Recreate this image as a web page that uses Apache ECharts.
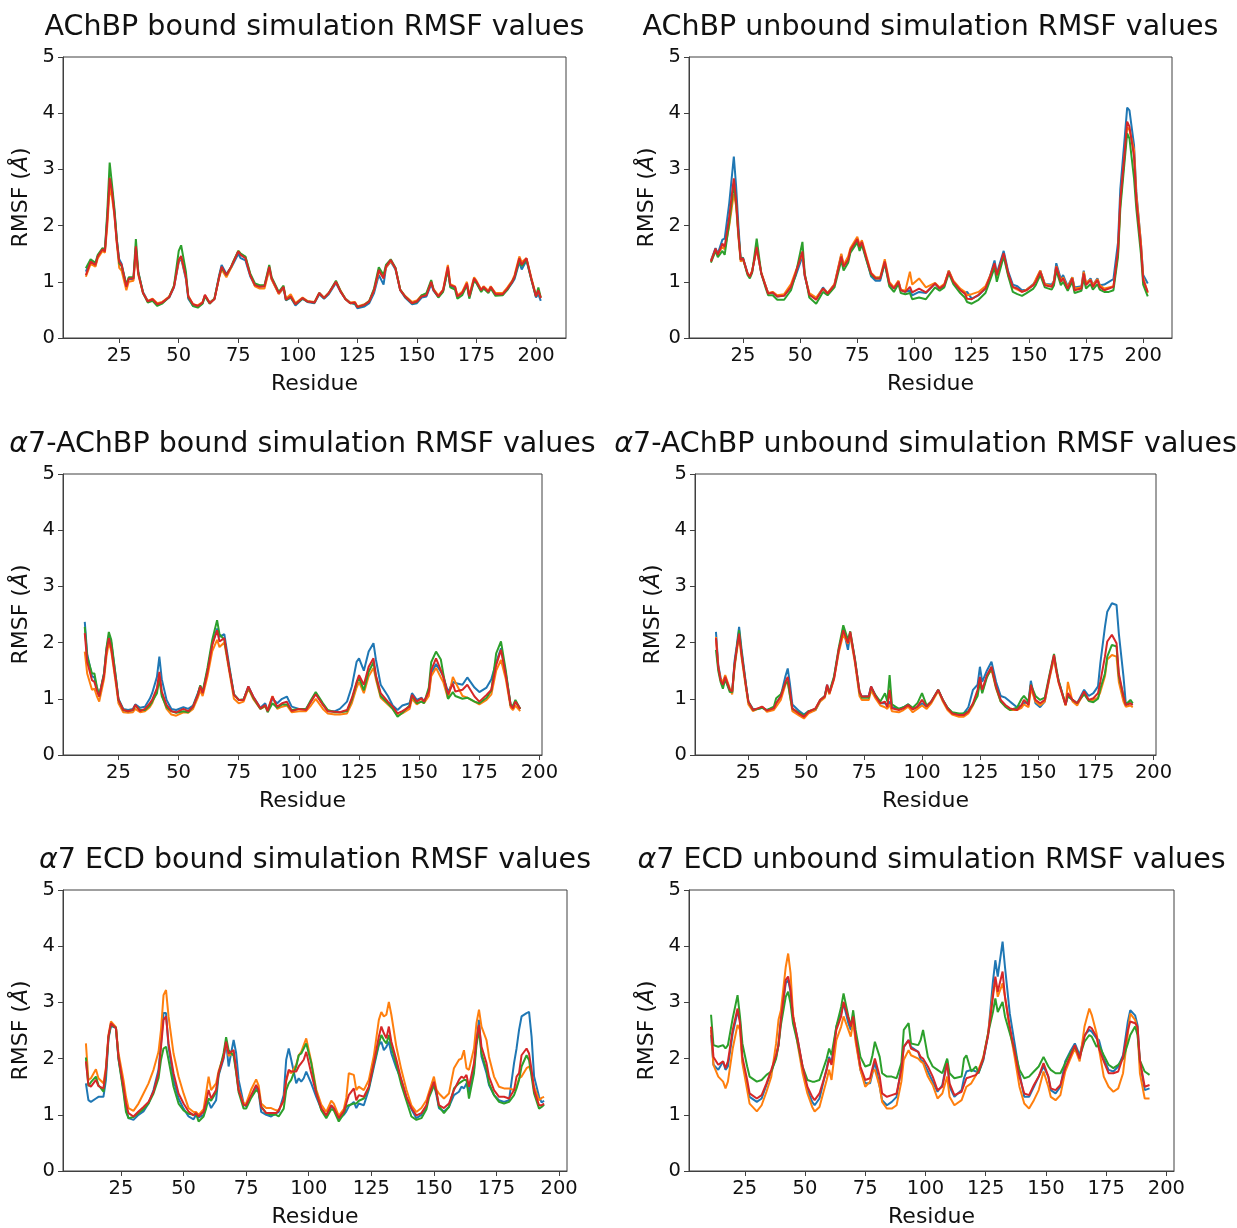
<!DOCTYPE html>
<html>
<head>
<meta charset="utf-8">
<script src="https://cdn.jsdelivr.net/npm/echarts@6.0.0/dist/echarts.min.js"></script>
<style>
  html, body { margin: 0; padding: 0; background: #fff; }
  #chart { width: 1237px; height: 1228px; }
</style>
</head>
<body>
<div id="chart"></div>
<script>
// residue tick labels, shared by every panel
const residueTicks = [25, 50, 75, 100, 125, 150, 175, 200];

// AChBP bound
const p1Res = [11,13,15,16,18,19,20,21,22,23, 24,25,26,28,29,31,32,33,35,37, 39,41,43,46,48,50,51,53,54,56,
  58,60,61,63,65,67,68,70,72,73, 75,76,78,80,82,84,86,88,89,92, 94,95,97,99,102,104,107,109,111,113,
  116,118,120,122,124,125,128,130,132,134, 136,137,139,141,143,145,148,150,152,154, 156,157,159,161,163,164,166,167,169,171,
  172,174,175,177,178,180,181,183,186,188, 190,191,193,194,196,198,200,201,202];
const p1Blue = [1.18,1.38,1.28,1.46,1.58,1.56,2.15,2.80,2.62,2.25, 1.75,1.40,1.32,0.93,1.05,1.05,1.60,1.17,0.82,0.66,
  0.68,0.60,0.63,0.72,0.90,1.35,1.42,1.05,0.70,0.57, 0.56,0.62,0.75,0.63,0.70,1.12,1.30,1.14,1.25,1.33,
  1.50,1.42,1.38,1.10,0.93,0.92,0.92,1.22,1.05,0.79, 0.88,0.67,0.72,0.58,0.70,0.64,0.62,0.78,0.70,0.78,
  0.98,0.82,0.70,0.63,0.60,0.53,0.56,0.62,0.80,1.12, 0.95,1.25,1.36,1.22,0.85,0.72,0.60,0.62,0.72,0.74,
  0.96,0.84,0.73,0.84,1.22,0.92,0.90,0.74,0.80,0.95, 0.72,1.04,0.98,0.84,0.90,0.82,0.90,0.78,0.78,0.86,
  0.98,1.05,1.35,1.22,1.38,1.05,0.72,0.78,0.66];
const p1Orange = [1.09,1.32,1.27,1.42,1.55,1.52,2.00,2.68,2.50,2.18, 1.68,1.25,1.20,0.85,1.00,1.02,1.55,1.12,0.80,0.66,
  0.70,0.62,0.64,0.74,0.92,1.38,1.44,1.08,0.75,0.60, 0.58,0.64,0.76,0.63,0.70,1.08,1.22,1.08,1.25,1.36,
  1.55,1.50,1.44,1.13,0.92,0.88,0.88,1.22,1.04,0.78, 0.90,0.70,0.78,0.62,0.72,0.66,0.64,0.80,0.72,0.80,
  1.00,0.84,0.70,0.63,0.64,0.56,0.60,0.66,0.85,1.18, 1.08,1.25,1.37,1.24,0.86,0.75,0.64,0.67,0.76,0.78,
  1.00,0.87,0.76,0.86,1.30,0.96,0.92,0.76,0.82,1.00, 0.76,1.08,1.02,0.86,0.92,0.84,0.92,0.80,0.80,0.90,
  1.02,1.12,1.45,1.35,1.42,1.08,0.76,0.84,0.72];
const p1Green = [1.24,1.40,1.34,1.48,1.60,1.58,2.25,3.12,2.72,2.30, 1.75,1.33,1.28,0.95,1.08,1.08,1.76,1.18,0.80,0.63,
  0.66,0.57,0.61,0.73,0.93,1.55,1.65,1.18,0.73,0.57, 0.54,0.61,0.74,0.61,0.70,1.10,1.25,1.12,1.27,1.37,
  1.55,1.50,1.45,1.15,0.97,0.94,0.94,1.30,1.08,0.82, 0.93,0.68,0.72,0.60,0.70,0.65,0.63,0.80,0.71,0.80,
  1.02,0.83,0.69,0.62,0.62,0.55,0.59,0.66,0.88,1.26, 1.12,1.30,1.40,1.25,0.86,0.74,0.62,0.64,0.76,0.80,
  1.03,0.86,0.72,0.82,1.22,0.90,0.86,0.70,0.76,0.94, 0.70,1.02,0.98,0.82,0.88,0.80,0.88,0.75,0.76,0.86,
  1.00,1.08,1.38,1.28,1.40,1.05,0.74,0.90,0.72];
const p1Red = [1.12,1.36,1.30,1.45,1.58,1.54,2.10,2.85,2.60,2.20, 1.70,1.36,1.30,0.91,1.06,1.06,1.63,1.15,0.80,0.65,
  0.69,0.60,0.63,0.73,0.91,1.39,1.46,1.09,0.74,0.60, 0.57,0.63,0.77,0.62,0.69,1.09,1.27,1.12,1.27,1.36,
  1.54,1.48,1.42,1.12,0.94,0.91,0.92,1.27,1.06,0.80, 0.91,0.68,0.74,0.60,0.71,0.65,0.63,0.80,0.71,0.80,
  1.00,0.82,0.69,0.62,0.63,0.55,0.59,0.65,0.85,1.21, 1.06,1.27,1.39,1.24,0.85,0.74,0.62,0.65,0.74,0.76,
  1.00,0.85,0.74,0.85,1.27,0.94,0.91,0.74,0.80,0.97, 0.74,1.06,1.00,0.85,0.91,0.82,0.91,0.78,0.78,0.88,
  1.00,1.09,1.42,1.30,1.42,1.06,0.74,0.85,0.71];

// AChBP unbound
const p2Res = [11,13,14,16,17,19,21,22,23,24, 25,27,28,29,31,33,35,36,38,40, 43,46,48,51,52,54,57,60,62,65,
  68,69,71,72,75,76,77,79,81,83, 85,87,89,91,93,94,96,98,99,102, 105,109,111,113,115,117,120,122,123,125,
  128,131,133,135,136,139,141,143,145,147, 149,152,153,155,157,160,161,162,164,165, 167,169,170,173,174,175,177,178,180,181,
  183,185,187,189,190,192,193,194,196,197, 199,200,202];
const p2Blue = [1.38,1.60,1.50,1.75,1.77,2.40,3.23,2.70,2.00,1.40, 1.43,1.15,1.10,1.18,1.60,1.15,0.92,0.80,0.80,0.74,
  0.76,0.90,1.10,1.45,1.10,0.78,0.70,0.90,0.80,0.95, 1.48,1.28,1.40,1.55,1.72,1.60,1.68,1.40,1.10,1.02,
  1.02,1.33,0.95,0.88,1.00,0.86,0.82,0.85,0.76,0.82, 0.80,0.97,0.88,0.92,1.20,1.00,0.86,0.80,0.82,0.70,
  0.76,0.88,1.10,1.38,1.15,1.55,1.18,0.95,0.92,0.85, 0.86,0.96,1.02,1.20,0.96,0.95,1.02,1.33,1.05,1.12,
  0.92,1.08,0.90,0.92,1.20,0.96,1.06,0.94,1.06,0.94, 0.95,1.00,1.05,1.70,2.65,3.60,4.10,4.05,3.43,2.60,
  1.70,1.12,0.97];
const p2Orange = [1.37,1.56,1.50,1.62,1.58,2.00,2.57,2.35,1.80,1.36, 1.40,1.15,1.10,1.20,1.58,1.17,0.92,0.80,0.82,0.76,
  0.78,0.96,1.18,1.50,1.12,0.80,0.72,0.88,0.80,0.96, 1.50,1.30,1.45,1.60,1.80,1.66,1.74,1.45,1.16,1.08,
  1.08,1.40,1.00,0.90,1.02,0.86,0.84,1.18,0.95,1.06, 0.90,0.98,0.90,0.96,1.20,1.02,0.88,0.82,0.76,0.78,
  0.82,0.92,1.10,1.30,1.10,1.48,1.12,0.90,0.86,0.82, 0.86,0.95,1.04,1.20,0.96,0.92,1.02,1.28,1.02,1.08,
  0.90,1.08,0.88,0.90,1.18,0.98,1.04,0.94,1.05,0.94, 0.88,0.90,0.92,1.50,2.40,3.30,3.75,3.70,3.35,2.55,
  1.70,1.08,0.80];
const p2Green = [1.34,1.55,1.44,1.55,1.48,2.05,2.75,2.40,1.85,1.40, 1.42,1.12,1.06,1.16,1.77,1.15,0.88,0.76,0.76,0.68,
  0.68,0.85,1.12,1.71,1.15,0.72,0.61,0.82,0.76,0.90, 1.38,1.20,1.34,1.52,1.70,1.55,1.66,1.38,1.12,1.06,
  1.06,1.33,0.92,0.82,0.96,0.80,0.78,0.80,0.69,0.72, 0.69,0.90,0.84,0.90,1.15,0.96,0.80,0.72,0.64,0.61,
  0.68,0.80,1.02,1.25,1.00,1.45,1.10,0.82,0.78,0.75, 0.80,0.88,0.94,1.12,0.90,0.86,0.94,1.20,0.94,1.00,
  0.84,1.00,0.80,0.84,1.06,0.88,0.96,0.86,0.96,0.86, 0.82,0.82,0.85,1.45,2.30,3.20,3.64,3.55,2.84,2.30,
  1.50,0.95,0.74];
const p2Red = [1.36,1.59,1.48,1.68,1.62,2.16,2.84,2.45,1.86,1.39, 1.42,1.15,1.09,1.18,1.62,1.15,0.91,0.79,0.81,0.74,
  0.75,0.91,1.15,1.54,1.12,0.77,0.68,0.88,0.79,0.94, 1.45,1.27,1.39,1.57,1.76,1.62,1.71,1.42,1.15,1.06,
  1.06,1.36,0.97,0.88,1.00,0.85,0.82,0.91,0.81,0.88, 0.81,0.97,0.88,0.94,1.18,1.00,0.85,0.79,0.70,0.69,
  0.77,0.88,1.09,1.33,1.12,1.51,1.15,0.91,0.88,0.82, 0.85,0.94,1.00,1.18,0.94,0.91,1.00,1.27,1.00,1.06,
  0.88,1.06,0.85,0.88,1.15,0.94,1.03,0.91,1.03,0.91, 0.85,0.88,0.91,1.57,2.45,3.34,3.85,3.76,3.23,2.45,
  1.62,1.03,0.82];

// α7-AChBP bound
const p3Res = [11,12,14,15,16,17,19,20,21,22, 24,25,27,29,31,32,34,36,38,39, 41,42,43,45,47,49,52,54,56,58,
  59,60,62,64,66,67,69,71,73,75, 77,79,81,84,86,87,89,91,93,95, 97,100,103,105,107,110,112,115,117,120,
  122,124,125,127,129,131,132,134,137,139, 141,143,146,147,149,151,152,154,155,157, 159,160,162,164,165,168,170,173,175,178,
  180,182,184,186,188,189,190,192];
const p3Blue = [2.37,1.80,1.40,1.38,1.20,1.05,1.45,1.88,2.10,2.00, 1.35,1.00,0.82,0.80,0.82,0.90,0.84,0.86,1.00,1.10,
  1.39,1.75,1.35,0.98,0.82,0.80,0.85,0.82,0.88,1.10, 1.22,1.12,1.50,1.98,2.25,2.10,2.15,1.60,1.08,0.98,
  0.98,1.22,1.04,0.84,0.92,0.80,1.00,0.92,1.00,1.04, 0.86,0.82,0.82,0.95,1.10,0.90,0.78,0.78,0.82,0.95,
  1.22,1.66,1.72,1.50,1.84,1.99,1.70,1.25,1.05,0.88, 0.80,0.88,0.92,1.10,0.98,1.02,0.95,1.10,1.45,1.62,
  1.48,1.40,1.12,1.30,1.28,1.25,1.38,1.20,1.12,1.20, 1.35,1.65,1.90,1.45,0.90,0.85,0.95,0.82];
const p3Orange = [1.84,1.45,1.16,1.18,1.05,0.95,1.35,1.75,2.00,1.85, 1.25,0.92,0.76,0.75,0.76,0.82,0.76,0.78,0.85,0.92,
  1.15,1.40,1.08,0.82,0.72,0.70,0.76,0.75,0.82,1.02, 1.15,1.05,1.40,1.85,2.05,1.92,2.00,1.50,1.00,0.92,
  0.95,1.18,1.00,0.82,0.86,0.80,1.05,0.82,0.86,0.88, 0.76,0.78,0.78,0.88,1.00,0.82,0.74,0.72,0.72,0.74,
  0.92,1.20,1.30,1.10,1.40,1.55,1.35,1.02,0.90,0.82, 0.70,0.74,0.82,1.00,0.90,0.96,0.92,1.05,1.40,1.55,
  1.38,1.30,1.00,1.39,1.30,1.05,1.02,0.95,0.90,0.98, 1.08,1.50,1.69,1.35,0.85,0.80,0.88,0.78];
const p3Green = [2.28,1.75,1.45,1.45,1.22,1.05,1.45,1.90,2.19,2.05, 1.35,0.98,0.80,0.78,0.80,0.88,0.80,0.80,0.88,0.95,
  1.10,1.36,1.05,0.85,0.78,0.75,0.78,0.76,0.86,1.08, 1.24,1.12,1.55,2.05,2.40,2.15,2.05,1.55,1.08,0.98,
  0.99,1.20,1.02,0.82,0.88,0.76,0.92,0.84,0.90,0.90, 0.80,0.82,0.82,0.98,1.12,0.92,0.80,0.76,0.76,0.78,
  0.98,1.28,1.38,1.15,1.48,1.65,1.40,1.05,0.92,0.82, 0.68,0.75,0.88,1.05,0.92,0.95,0.92,1.20,1.65,1.84,
  1.70,1.45,1.00,1.12,1.05,1.00,1.02,0.95,0.92,1.02, 1.15,1.81,2.02,1.50,0.88,0.88,0.98,0.82];
const p3Red = [2.17,1.66,1.33,1.30,1.15,1.04,1.42,1.84,2.08,1.90, 1.30,0.98,0.80,0.78,0.80,0.89,0.78,0.82,0.92,0.98,
  1.19,1.48,1.13,0.89,0.78,0.76,0.82,0.78,0.86,1.07, 1.22,1.10,1.48,1.96,2.22,2.02,2.08,1.54,1.07,0.98,
  0.98,1.22,1.04,0.83,0.89,0.78,1.04,0.86,0.92,0.95, 0.78,0.82,0.80,0.95,1.08,0.89,0.78,0.77,0.76,0.80,
  1.01,1.30,1.42,1.25,1.57,1.72,1.42,1.10,0.95,0.86, 0.74,0.78,0.86,1.07,0.95,1.01,0.95,1.13,1.51,1.72,
  1.51,1.39,1.08,1.27,1.13,1.16,1.25,1.04,0.95,1.07, 1.16,1.60,1.87,1.42,0.89,0.83,0.95,0.82];

// α7-AChBP unbound
const p4Res = [11,12,13,14,15,17,18,19,20,21, 22,24,25,27,29,31,33,36,37,39, 41,42,43,44,47,49,51,54,56,58,
  59,60,62,64,66,68,69,71,73,74, 77,78,80,82,84,85,86,87,90,92, 94,96,98,100,102,104,107,109,111,113,
  116,118,120,122,124,125,126,128,130,132, 134,136,138,141,143,144,146,147,149,151, 153,155,157,158,159,162,163,165,167,168,
  170,172,174,176,177,179,180,182,184,185, 187,188,190,191];
const p4Blue = [2.19,1.60,1.38,1.25,1.35,1.15,1.10,1.66,1.95,2.28, 1.90,1.25,0.95,0.82,0.82,0.84,0.80,0.84,0.92,1.05,
  1.40,1.54,1.25,0.90,0.78,0.72,0.78,0.80,0.96,1.05, 1.25,1.10,1.38,1.85,2.25,1.87,2.15,1.70,1.10,1.04,
  1.05,1.22,1.05,0.92,0.92,0.88,0.95,0.85,0.82,0.85, 0.90,0.82,0.85,0.92,0.86,0.95,1.16,0.98,0.84,0.75,
  0.72,0.74,0.85,1.16,1.25,1.57,1.30,1.50,1.66,1.30, 1.05,1.02,0.95,0.85,0.88,0.92,0.95,1.32,0.92,0.85,
  0.95,1.38,1.75,1.50,1.32,0.90,1.05,0.98,0.92,1.00, 1.16,1.05,1.10,1.22,1.63,2.28,2.55,2.70,2.67,2.16,
  1.40,0.92,0.92,0.90];
const p4Orange = [2.10,1.55,1.35,1.30,1.42,1.18,1.08,1.55,1.85,2.12, 1.75,1.18,0.90,0.78,0.82,0.86,0.77,0.80,0.86,0.98,
  1.25,1.32,1.05,0.78,0.70,0.65,0.74,0.80,0.95,1.02, 1.20,1.08,1.35,1.82,2.15,1.98,2.12,1.65,1.05,0.98,
  0.98,1.15,1.00,0.88,0.85,0.82,0.90,0.78,0.76,0.80, 0.86,0.76,0.82,0.88,0.82,0.92,1.14,0.95,0.80,0.72,
  0.68,0.68,0.74,0.88,1.10,1.35,1.12,1.40,1.52,1.18, 0.95,0.86,0.80,0.80,0.84,0.90,0.85,1.18,0.95,0.88,
  0.95,1.35,1.72,1.48,1.28,0.88,1.30,0.95,0.88,0.96, 1.10,0.98,0.98,1.02,1.12,1.40,1.70,1.78,1.75,1.30,
  0.95,0.86,0.88,0.85];
const p4Green = [1.87,1.50,1.30,1.18,1.35,1.12,1.12,1.58,1.90,2.22, 1.85,1.22,0.95,0.80,0.82,0.84,0.80,0.86,1.01,1.08,
  1.28,1.30,1.05,0.82,0.75,0.70,0.78,0.82,0.98,1.05, 1.22,1.12,1.40,1.90,2.31,2.05,2.20,1.72,1.12,1.02,
  1.02,1.20,1.06,0.95,1.10,0.95,1.42,0.90,0.82,0.85, 0.90,0.84,0.92,1.10,0.88,0.95,1.16,0.98,0.84,0.76,
  0.74,0.74,0.78,0.90,1.05,1.30,1.10,1.38,1.55,1.20, 0.95,0.86,0.80,0.84,1.00,1.05,0.95,1.25,1.05,0.98,
  1.02,1.42,1.80,1.55,1.32,0.90,1.05,0.98,0.92,0.98, 1.08,0.96,0.94,1.00,1.18,1.45,1.75,1.96,1.93,1.40,
  1.05,0.90,0.98,0.92];
const p4Red = [2.08,1.57,1.33,1.25,1.39,1.16,1.13,1.60,1.90,2.16, 1.81,1.22,0.95,0.80,0.83,0.86,0.79,0.83,0.92,1.04,
  1.30,1.39,1.13,0.83,0.73,0.68,0.77,0.83,0.98,1.04, 1.25,1.10,1.36,1.87,2.22,1.99,2.19,1.69,1.13,1.04,
  1.04,1.22,1.04,0.92,0.95,0.85,1.16,0.83,0.80,0.83, 0.89,0.81,0.86,0.98,0.86,0.95,1.16,0.98,0.83,0.74,
  0.71,0.71,0.77,0.92,1.16,1.39,1.16,1.42,1.57,1.22, 0.98,0.89,0.83,0.80,0.89,0.98,0.89,1.25,0.98,0.92,
  0.98,1.39,1.78,1.51,1.30,0.89,1.10,0.98,0.92,0.98, 1.13,0.98,1.01,1.10,1.30,1.75,2.02,2.14,1.99,1.45,
  1.04,0.89,0.92,0.89];

// α7 ECD bound
const p5Res = [11,12,13,15,16,18,19,20,21,23, 24,26,27,28,30,32,34,36,38,40, 41,42,43,44,46,48,50,52,54,55,
  56,58,59,60,61,63,64,66,67,68, 70,71,72,74,75,77,79,80,81,83, 85,87,88,90,91,92,93,95,96,97,
  98,99,101,103,105,107,109,110,112,114, 115,116,118,119,120,122,124,126,128,129, 130,131,132,133,135,137,139,141,143,145,
  147,148,150,151,152,154,156,158,160,161, 162,163,164,166,167,168,169,171,172,174, 176,178,180,182,183,184,185,187,188,189,
  190,192,193,194];
const p5Blue = [1.56,1.26,1.23,1.29,1.32,1.32,1.62,2.35,2.58,2.55, 2.00,1.45,1.12,0.94,0.91,1.00,1.06,1.20,1.44,1.80,
  2.27,2.81,2.81,2.21,1.62,1.29,1.11,0.97,0.92,1.00, 0.95,1.00,1.18,1.23,1.12,1.26,1.70,2.00,2.30,1.86,
  2.33,2.10,1.62,1.20,1.15,1.33,1.50,1.40,1.05,1.00, 0.97,1.03,1.05,1.35,1.98,2.18,1.98,1.56,1.65,1.59,
  1.65,1.77,1.56,1.32,1.10,0.97,1.15,1.10,0.92,1.00, 1.06,1.15,1.23,1.12,1.20,1.17,1.45,1.85,2.24,2.30,
  2.15,2.21,2.30,2.09,1.83,1.62,1.32,1.10,0.94,1.00, 1.15,1.35,1.55,1.35,1.12,1.06,1.14,1.35,1.41,1.50,
  1.47,1.56,1.41,1.80,2.33,2.69,2.04,1.74,1.53,1.35, 1.26,1.23,1.26,1.92,2.18,2.51,2.75,2.81,2.83,2.39,
  1.68,1.32,1.22,1.25];
const p5Orange = [2.27,1.62,1.65,1.81,1.65,1.56,1.85,2.42,2.66,2.56, 2.10,1.62,1.32,1.12,1.07,1.20,1.38,1.56,1.80,2.12,
  2.51,3.13,3.22,2.75,2.09,1.68,1.38,1.12,1.05,1.05, 1.00,1.10,1.38,1.68,1.44,1.56,1.78,2.05,2.32,2.05,
  2.10,1.78,1.45,1.20,1.20,1.45,1.63,1.52,1.20,1.12, 1.12,1.08,1.08,1.25,1.60,1.77,1.74,1.89,2.06,2.12,
  2.24,2.36,1.95,1.45,1.18,1.05,1.25,1.20,0.98,1.10, 1.30,1.74,1.71,1.44,1.50,1.44,1.62,2.05,2.69,2.83,
  2.75,2.78,3.01,2.78,2.21,1.80,1.45,1.17,1.05,1.12, 1.26,1.40,1.68,1.45,1.38,1.29,1.38,1.83,1.98,2.00,
  2.15,1.83,1.80,2.18,2.63,2.87,2.57,2.33,2.03,1.68, 1.50,1.47,1.47,1.44,1.50,1.65,1.68,1.83,1.86,1.74,
  1.50,1.26,1.30,1.32];
const p5Green = [2.02,1.51,1.58,1.68,1.53,1.41,1.75,2.38,2.60,2.55, 2.00,1.40,1.05,0.94,0.96,1.03,1.10,1.20,1.38,1.65,
  1.98,2.18,2.21,1.98,1.50,1.20,1.08,1.02,1.00,1.02, 0.88,0.97,1.11,1.29,1.25,1.40,1.72,2.10,2.38,2.15,
  2.05,1.75,1.40,1.11,1.11,1.30,1.44,1.40,1.15,1.03, 1.00,1.00,0.97,1.11,1.44,1.56,1.62,1.86,2.06,2.09,
  2.18,2.27,1.92,1.40,1.08,0.94,1.10,1.08,0.88,1.02, 1.15,1.17,1.20,1.20,1.25,1.29,1.48,1.90,2.27,2.42,
  2.33,2.27,2.42,2.21,1.89,1.53,1.25,0.97,0.91,0.94, 1.10,1.30,1.52,1.40,1.15,1.03,1.14,1.47,1.56,1.59,
  1.62,1.62,1.29,1.74,2.24,2.51,2.09,1.80,1.56,1.35, 1.23,1.20,1.23,1.35,1.47,1.62,1.86,2.06,1.97,1.68,
  1.38,1.11,1.14,1.18];
const p5Red = [1.95,1.53,1.50,1.62,1.51,1.47,1.80,2.39,2.63,2.54, 2.03,1.50,1.20,1.03,0.97,1.06,1.14,1.23,1.41,1.74,
  2.21,2.69,2.75,2.27,1.74,1.38,1.20,1.06,0.99,1.03, 0.97,1.06,1.23,1.44,1.29,1.44,1.74,2.03,2.30,2.09,
  2.15,1.80,1.44,1.17,1.17,1.35,1.53,1.44,1.14,1.03, 1.03,1.03,1.08,1.26,1.62,1.80,1.77,1.77,1.86,1.92,
  1.98,2.12,1.74,1.38,1.12,0.99,1.17,1.12,0.94,1.06, 1.20,1.35,1.47,1.26,1.35,1.32,1.50,1.92,2.39,2.57,
  2.45,2.36,2.57,2.30,1.98,1.62,1.32,1.12,0.99,1.03, 1.17,1.35,1.59,1.41,1.17,1.12,1.20,1.44,1.62,1.68,
  1.65,1.71,1.50,1.92,2.33,2.60,2.21,1.92,1.68,1.44, 1.32,1.32,1.29,1.44,1.68,1.74,2.06,2.18,2.09,1.80,
  1.44,1.17,1.17,1.20];

// α7 ECD unbound
const p6Res = [11,12,14,16,17,18,20,22,23,24, 26,27,30,32,34,36,38,39,40,42, 43,44,45,47,49,51,53,54,56,59,
  60,61,63,65,66,68,69,70,71,73, 75,77,78,79,81,82,84,86,88,90, 91,93,94,97,98,99,101,103,105,107,
  109,110,112,115,116,117,119,121,122,124, 126,128,129,130,132,133,135,137,139,141, 143,145,147,149,151,152,154,156,158,160,
  162,164,166,168,169,171,172,174,176,178, 180,182,184,185,187,188,189,191,193];
const p6Blue = [2.42,1.89,1.80,1.95,1.80,1.86,2.45,2.83,2.69,1.97, 1.53,1.32,1.23,1.29,1.53,1.77,2.03,2.24,2.72,3.34,
  3.40,3.19,2.75,2.33,1.83,1.44,1.23,1.17,1.29,1.83, 2.03,1.92,2.57,2.81,2.98,2.63,2.51,2.78,2.36,1.80,
  1.56,1.56,1.74,1.95,1.50,1.26,1.17,1.23,1.32,1.86, 2.21,2.33,2.21,2.12,1.98,1.95,1.77,1.59,1.41,1.53,
  1.98,1.50,1.32,1.44,1.65,1.77,1.80,1.77,1.74,1.97, 2.42,3.37,3.75,3.46,4.08,3.63,2.80,2.27,1.74,1.32,
  1.32,1.50,1.68,1.86,1.68,1.44,1.38,1.50,1.95,2.12, 2.27,2.06,2.42,2.51,2.48,2.36,2.33,2.00,1.80,1.77,
  1.86,2.06,2.66,2.86,2.77,2.60,1.92,1.44,1.47];
const p6Orange = [2.51,1.89,1.68,1.59,1.47,1.59,2.18,2.60,2.51,1.92, 1.44,1.20,1.06,1.17,1.41,1.68,2.27,2.69,2.86,3.63,
  3.87,3.52,2.80,2.24,1.74,1.38,1.14,1.06,1.14,1.62, 1.80,1.62,2.33,2.57,2.75,2.51,2.39,2.66,2.30,1.80,
  1.50,1.59,1.77,1.80,1.50,1.23,1.11,1.11,1.17,1.59, 1.98,2.15,2.06,2.00,1.95,1.92,1.68,1.53,1.29,1.38,
  1.68,1.32,1.17,1.26,1.38,1.50,1.56,1.71,1.80,2.03, 2.45,3.16,3.40,3.10,3.34,3.10,2.51,2.03,1.50,1.20,
  1.11,1.26,1.44,1.77,1.50,1.32,1.26,1.35,1.77,1.98, 2.18,1.95,2.57,2.89,2.78,2.45,2.18,1.68,1.50,1.41,
  1.47,1.74,2.45,2.80,2.69,2.51,1.74,1.29,1.29];
const p6Green = [2.78,2.24,2.21,2.24,2.18,2.24,2.72,3.13,2.75,2.27, 1.86,1.68,1.59,1.62,1.71,1.77,2.00,2.24,2.60,3.10,
  3.19,2.98,2.63,2.27,1.86,1.62,1.59,1.59,1.62,2.00, 2.18,2.06,2.57,2.92,3.16,2.75,2.57,2.86,2.51,2.03,
  1.86,1.89,2.06,2.30,2.03,1.74,1.68,1.68,1.65,1.92, 2.51,2.63,2.27,2.24,2.33,2.51,2.03,1.86,1.80,1.74,
  2.00,1.74,1.65,1.68,2.00,2.06,1.77,1.86,1.74,2.00, 2.45,2.83,3.07,2.83,3.01,2.75,2.45,2.15,1.80,1.65,
  1.68,1.77,1.86,2.03,1.86,1.80,1.74,1.74,1.92,2.09, 2.21,2.03,2.30,2.42,2.39,2.21,2.24,2.06,1.89,1.83,
  1.89,2.00,2.27,2.42,2.57,2.42,1.97,1.77,1.71];
const p6Red = [2.57,2.03,1.89,1.95,1.83,1.95,2.51,2.89,2.63,2.03, 1.62,1.38,1.29,1.35,1.56,1.80,2.06,2.24,2.69,3.40,
  3.46,3.22,2.75,2.33,1.86,1.50,1.32,1.26,1.38,1.80, 2.00,1.89,2.51,2.75,3.01,2.72,2.57,2.75,2.39,1.86,
  1.62,1.65,1.83,2.00,1.68,1.38,1.32,1.35,1.38,1.80, 2.21,2.33,2.18,2.12,2.03,2.00,1.86,1.68,1.44,1.50,
  1.92,1.56,1.35,1.41,1.53,1.65,1.68,1.71,1.77,2.00, 2.42,3.10,3.46,3.19,3.55,3.10,2.57,2.12,1.68,1.38,
  1.35,1.53,1.68,1.92,1.68,1.47,1.44,1.53,1.83,2.03, 2.24,2.00,2.39,2.57,2.54,2.39,2.18,1.95,1.74,1.74,
  1.77,2.03,2.51,2.66,2.63,2.57,1.97,1.50,1.53];

const lineColors = ['#1f77b4', '#ff7f0e', '#2ca02c', '#d62728'];
const font = 'DejaVu Sans';
const ink = '#111';
const frame = '#404040';

const panels = [
  { title: 'AChBP bound simulation RMSF values', res: p1Res, lines: [p1Blue, p1Orange, p1Green, p1Red],
    left: 63, top: 57, width: 503, xMin: 1.4, xMax: 212.6 },
  { title: 'AChBP unbound simulation RMSF values', res: p2Res, lines: [p2Blue, p2Orange, p2Green, p2Red],
    left: 689, top: 57, width: 483, xMin: 1.4, xMax: 212.6 },
  { title: '{a|α}7-AChBP bound simulation RMSF values', res: p3Res, lines: [p3Blue, p3Orange, p3Green, p3Red],
    left: 63, top: 474, width: 479, xMin: 1.95, xMax: 201.05 },
  { title: '{a|α}7-AChBP unbound simulation RMSF values', res: p4Res, lines: [p4Blue, p4Orange, p4Green, p4Red],
    left: 695, top: 474, width: 461, xMin: 1.95, xMax: 201.05 },
  { title: '{a|α}7 ECD bound simulation RMSF values', res: p5Res, lines: [p5Blue, p5Orange, p5Green, p5Red],
    left: 63, top: 890, width: 504, xMin: 1.85, xMax: 203.15 },
  { title: '{a|α}7 ECD unbound simulation RMSF values', res: p6Res, lines: [p6Blue, p6Orange, p6Green, p6Red],
    left: 689, top: 890, width: 485, xMin: 1.85, xMax: 203.15 }
];
const plotHeight = 281;

function pairs(res, vals) {
  const n = Math.min(res.length, vals.length);
  const out = [];
  for (let i = 0; i < n; i++) out.push([res[i], vals[i]]);
  return out;
}

const titles = [], grids = [], xAxes = [], yAxes = [], series = [];

panels.forEach(function (p, i) {
  titles.push({
    text: p.title,
    left: p.left + p.width / 2,
    top: p.top - 44,
    textAlign: 'center',
    padding: 0,
    textStyle: {
      fontFamily: font, fontSize: 28.5, fontWeight: 'normal', color: ink,
      rich: { a: { fontFamily: font, fontSize: 28.5, fontStyle: 'italic', color: ink } }
    }
  });
  grids.push({
    left: p.left, top: p.top, width: p.width, height: plotHeight,
    show: true, borderColor: frame, borderWidth: 1, backgroundColor: '#fff',
    containLabel: false, outerBoundsMode: 'none'
  });
  xAxes.push({
    type: 'value', gridIndex: i, min: p.xMin, max: p.xMax,
    name: 'Residue', nameLocation: 'middle', nameGap: 35,
    nameTextStyle: { fontFamily: font, fontSize: 22, color: ink },
    axisLine: { show: true, lineStyle: { color: frame, width: 1 } },
    axisTick: { show: true, length: 5, customValues: residueTicks, lineStyle: { color: frame } },
    axisLabel: { customValues: residueTicks, fontFamily: font, fontSize: 19.5, color: ink, margin: 8 },
    splitLine: { show: false }
  });
  yAxes.push({
    type: 'value', gridIndex: i, min: 0, max: 5, interval: 1,
    name: 'RMSF ({i|Å})', nameLocation: 'middle', nameGap: 31,
    nameTextStyle: {
      fontFamily: font, fontSize: 22, color: ink,
      rich: { i: { fontFamily: font, fontSize: 22, fontStyle: 'italic', color: ink } }
    },
    axisLine: { show: true, lineStyle: { color: frame, width: 1 } },
    axisTick: { show: true, length: 5, lineStyle: { color: frame } },
    axisLabel: { fontFamily: font, fontSize: 19.5, color: ink, margin: 8 },
    splitLine: { show: false }
  });
  p.lines.forEach(function (vals, k) {
    series.push({
      type: 'line', xAxisIndex: i, yAxisIndex: i,
      data: pairs(p.res, vals),
      showSymbol: false, symbol: 'none',
      lineStyle: { color: lineColors[k], width: 2 },
      itemStyle: { color: lineColors[k] },
      z: 2 + k,
      silent: true
    });
  });
});

const chart = echarts.init(document.getElementById('chart'), null, { renderer: 'canvas' });
chart.setOption({
  backgroundColor: '#fff',
  animation: false,
  title: titles,
  grid: grids,
  xAxis: xAxes,
  yAxis: yAxes,
  series: series
});
</script>
</body>
</html>
